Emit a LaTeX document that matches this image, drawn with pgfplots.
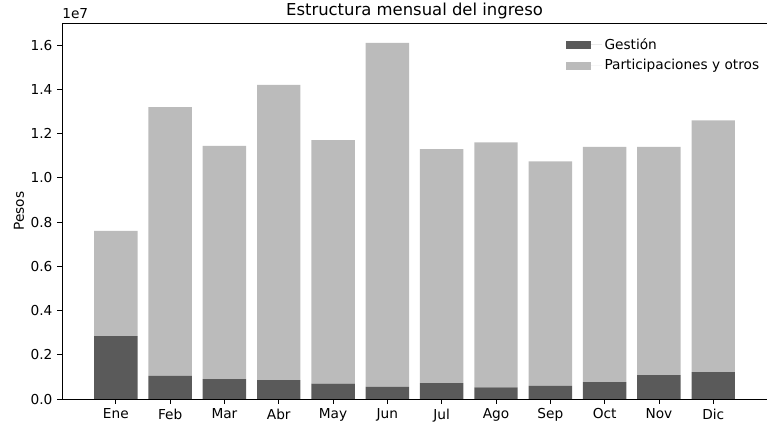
\documentclass[border=0pt]{standalone}
\usepackage{fontspec}
\setmainfont{DejaVu Sans}
\usepackage{pgfplots}
\usepackage{pgfplotstable}
\pgfplotsset{compat=1.18}
\usetikzlibrary{calc}
\definecolor{gestion}{HTML}{5A5A5A}
\definecolor{partic}{HTML}{BBBBBB}

% mes  gestion  participaciones
\pgfplotstableread{
x  ges      par
0  2850000  4750000
1  1050000  12150000
2  900000   10550000
3  850000   13350000
4  700000   11000000
5  550000   15550000
6  720000   10580000
7  530000   11070000
8  600000   10150000
9  770000   10630000
10 1080000  10320000
11 1220000  11380000
}\ingreso

\begin{document}
\begin{tikzpicture}
\begin{axis}[
  name=ax,
  scale only axis,
  width=514.6pt, height=274.5pt,
  ybar stacked, bar width=0.8,
  xmin=-0.99, xmax=11.99,
  ymin=0, ymax=17000000,
  xtick={0,...,11},
  xticklabels={Ene,Feb,Mar,Abr,May,Jun,Jul,Ago,Sep,Oct,Nov,Dic},
  ytick={0,2000000,4000000,6000000,8000000,10000000,12000000,14000000,16000000},
  yticklabels={0.0,0.2,0.4,0.6,0.8,1.0,1.2,1.4,1.6},
  scaled y ticks=false,
  tick align=outside, major tick length=3.5pt,
  xtick pos=bottom, ytick pos=left,
  tick style={black, line width=0.6pt},
  axis line style={line width=0.6pt},
  /pgf/number format/assume math mode=true,
  ylabel={Pesos},
  ylabel style={yshift=-2pt},
  clip=false,
  legend style={at={(0.999,0.975)}, anchor=north east, draw=none, fill=white,
    row sep=2pt, font=\fontsize{10}{12}\selectfont},
  legend cell align={left},
  legend image code/.code={\fill[#1] (0pt,-3pt) rectangle (18pt,3pt); \path (18pt,0pt) -- (26pt,0pt);},
]
\addplot[fill=gestion, draw=none] table[x=x, y=ges] {\ingreso};
\addplot[fill=partic, draw=none] table[x=x, y=par] {\ingreso};
\legend{Gestión, Participaciones y otros}
\end{axis}
\draw[black, line width=0.6pt] (ax.south west) rectangle (ax.north east);
\node[anchor=south west, inner sep=0pt] at ($(ax.north west)+(0,3pt)$) {1e7};
\node[anchor=south, inner sep=0pt] at ($(ax.north)+(0,3pt)$) {\fontsize{12}{14}\selectfont Estructura mensual del ingreso};
\pgfresetboundingbox
\path[use as bounding box] ($(ax.south west)+(-45.3pt,-24.8pt)$) rectangle ($(ax.north east)+(0pt,16.8pt)$);
\end{tikzpicture}
\end{document}
